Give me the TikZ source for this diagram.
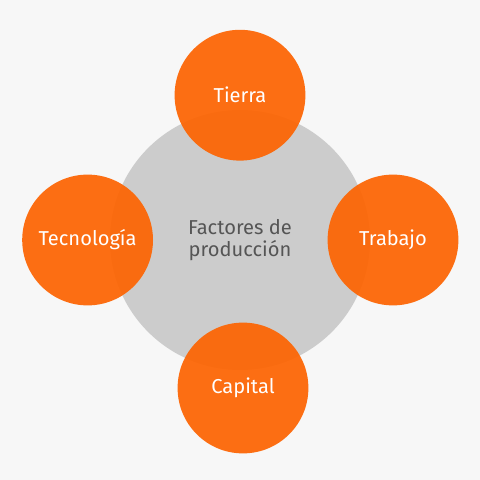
\documentclass[tikz,border=0pt]{standalone}
\usepackage{fontspec}
\setmainfont{Fira Sans}
\usepackage{xcolor}
\usetikzlibrary{positioning}
\definecolor{fondo}{RGB}{247,247,247}
\definecolor{gris}{RGB}{204,204,204}
\definecolor{naranja}{RGB}{253,99,0}
\definecolor{textogris}{RGB}{85,85,85}

\begin{document}
\begin{tikzpicture}[
centro/.style={circle,fill=gris,minimum size=6.5cm,inner sep=0pt,align=center,text=textogris,font=\fontsize{14.3}{15.8}\selectfont},
factor/.style={circle,fill=naranja,fill opacity=0.92,text opacity=1,text=white,minimum size=3.27cm,inner sep=0pt,font=\fontsize{14.3}{16}\selectfont}]
\fill[fondo] (0,0) rectangle (12,12);
\useasboundingbox (0,0) rectangle (12,12);
\node[centro] (fp) at (6,6) {Factores de\\producción};
\node[factor] (tierra) at (6,9.62) {Tierra};
\node[factor] (trabajo) at (9.825,6) {Trabajo};
\node[factor] (capital) at (6.075,2.3) {Capital};
\node[factor] (tecnologia) at (2.19,6) {Tecnología};
\end{tikzpicture}
\end{document}
